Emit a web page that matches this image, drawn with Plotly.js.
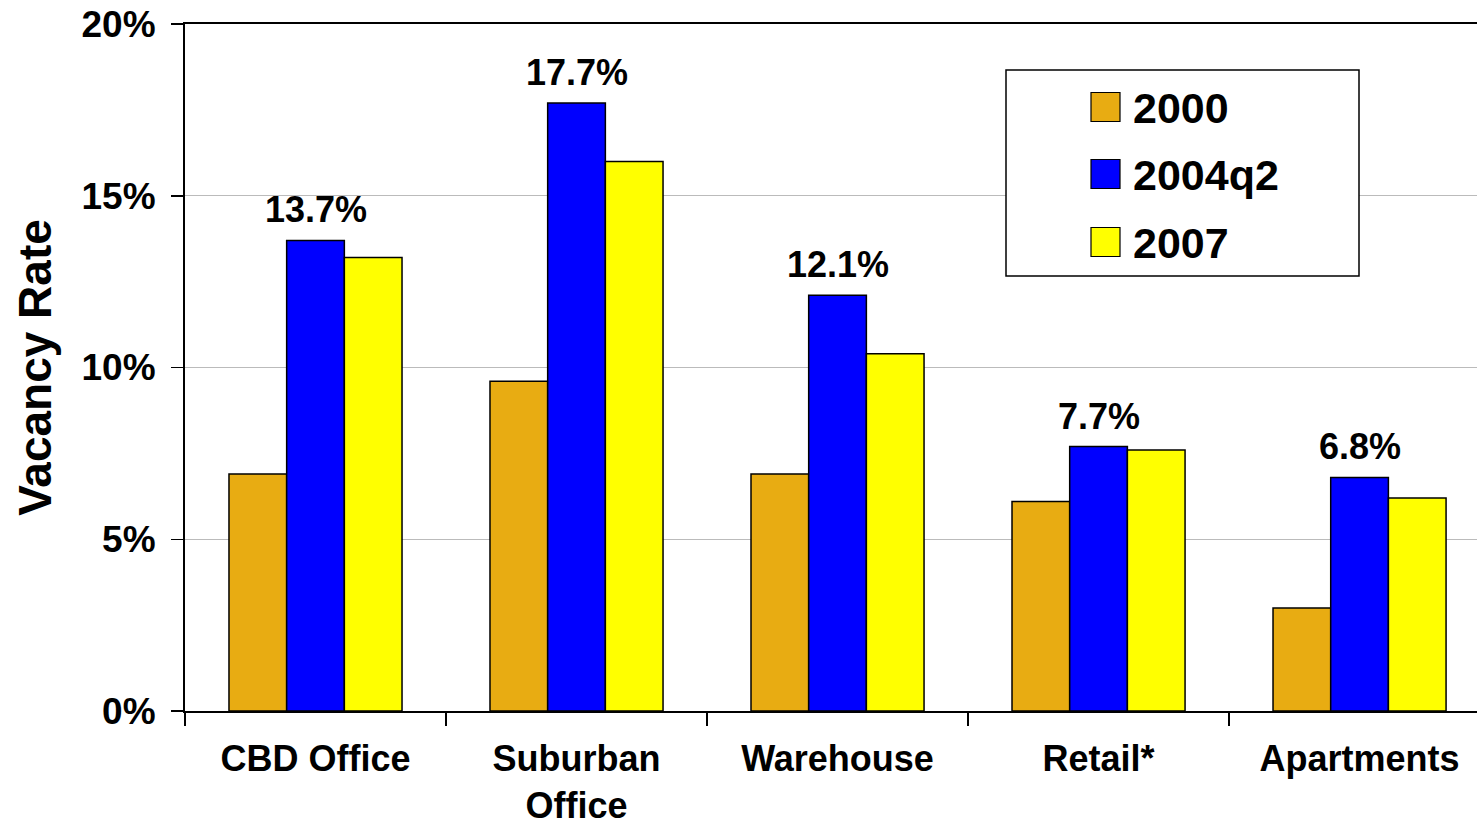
<!DOCTYPE html>
<html>
<head>
<meta charset="utf-8">
<script src="https://cdn.plot.ly/plotly-3.0.1.min.js"></script>
<style>html,body{margin:0;padding:0;background:#fff;}#chart{width:1477px;height:826px;}</style>
</head>
<body>
<div id="chart"></div>
<script>
const categories = ["CBD Office", "Suburban<br>Office", "Warehouse", "Retail*", "Apartments"];
const seriesNames = ["2000", "2004q2", "2007"];
const values2000 = [6.9, 9.6, 6.9, 6.1, 3.0];
const values2004q2 = [13.7, 17.7, 12.1, 7.7, 6.8];
const values2007 = [13.2, 16.0, 10.4, 7.6, 6.2];
const yTickVals = [0, 5, 10, 15, 20];
const yTickText = ["0%", "5%", "10%", "15%", "20%"];
const colors = ["#E8AC12", "#0000FF", "#FFFF00"];

const W = 1477, H = 826;
const M = {l: 185, r: 0, t: 24, b: 115};
const fx = px => (px - M.l) / (W - M.l - M.r);
const fy = py => (H - M.b - py) / (H - M.t - M.b);
const FONT = "Liberation Sans, Arial, Helvetica, sans-serif";

const seriesValues = [values2000, values2004q2, values2007];
const traces = seriesValues.map((vals, i) => ({
  type: "bar",
  name: seriesNames[i],
  x: categories,
  y: vals,
  marker: {color: colors[i], line: {color: "#000", width: 1.5}},
  hoverinfo: "x+y+name"
}));

const annotations = categories.map((c, i) => ({
  x: c, y: values2004q2[i], xref: "x", yref: "y",
  text: values2004q2[i].toFixed(1) + "%",
  showarrow: false, yanchor: "bottom", yshift: 8,
  font: {family: FONT, size: 36, color: "#000", weight: 700}
}));

// Custom legend
const shapes = [{
  type: "rect", xref: "paper", yref: "paper",
  x0: fx(1006), x1: fx(1359), y0: fy(276), y1: fy(70),
  fillcolor: "#fff", line: {color: "#000", width: 1.5}, layer: "above"
}];
const legendCenters = [107, 174, 242];
seriesNames.forEach((n, i) => {
  const cy = legendCenters[i];
  shapes.push({
    type: "rect", xref: "paper", yref: "paper",
    x0: fx(1091), x1: fx(1120), y0: fy(cy + 14.5), y1: fy(cy - 14.5),
    fillcolor: colors[i], line: {color: "#000", width: 1.2}, layer: "above"
  });
  annotations.push({
    xref: "paper", yref: "paper", x: fx(1131), y: fy(cy + 1),
    xanchor: "left", yanchor: "middle", showarrow: false,
    text: n, font: {family: FONT, size: 43, color: "#000", weight: 700}
  });
});

const layout = {
  width: W, height: H,
  margin: M,
  paper_bgcolor: "#fff", plot_bgcolor: "#fff",
  showlegend: false,
  barmode: "group", bargap: 0.337, bargroupgap: 0,
  font: {family: FONT, color: "#000"},
  xaxis: {
    type: "category", range: [-0.5, 4.45],
    showline: true, linecolor: "#000", linewidth: 2, mirror: true,
    ticks: "outside", tickson: "boundaries", ticklen: 13, tickwidth: 1.5, tickcolor: "#000",
    tickfont: {family: FONT, size: 36, color: "#000", weight: 700},
    ticklabelstandoff: 15,
    showgrid: false, zeroline: false, fixedrange: true
  },
  yaxis: {
    range: [0, 20], tickvals: yTickVals, ticktext: yTickText,
    showline: true, linecolor: "#000", linewidth: 2,
    ticks: "outside", ticklen: 12, tickwidth: 1.5, tickcolor: "#000",
    tickfont: {family: FONT, size: 37, color: "#000", weight: 700},
    ticklabelstandoff: 8,
    showgrid: true, gridcolor: "#BBBBBB", gridwidth: 1.2, zeroline: false,
    title: {text: "Vacancy Rate", font: {family: FONT, size: 46, color: "#000", weight: 700}, standoff: 15},
    fixedrange: true
  },
  annotations: annotations,
  shapes: shapes
};

Plotly.newPlot("chart", traces, layout, {displayModeBar: false, staticPlot: true});
</script>
</body>
</html>
